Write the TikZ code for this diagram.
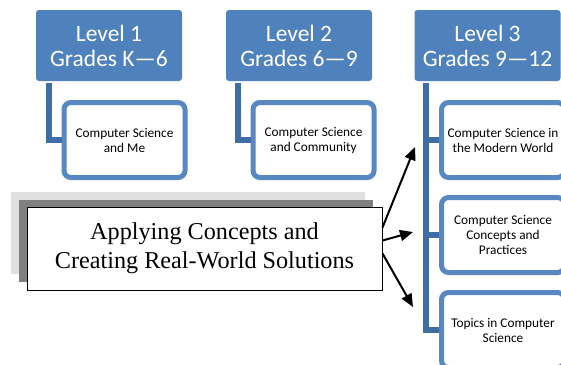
\documentclass[tikz,border=0pt]{standalone}
\usepackage{fontspec}
\setmainfont{Liberation Serif}
\newfontfamily\calibri{Carlito}
\usetikzlibrary{arrows.meta}
\definecolor{lvblue}{HTML}{4F81BD}
\definecolor{lnblue}{HTML}{3F6EA6}
\definecolor{subblue}{HTML}{5987C2}
\begin{document}
\begin{tikzpicture}[x=1pt,y=-1pt,
    level/.style={fill=lvblue,rounded corners=3pt,minimum width=146pt,minimum height=71pt,
        inner sep=0pt,align=center,text=white,font=\calibri\fontsize{23.5}{25}\selectfont},
    sub/.style={draw=subblue,line width=5pt,fill=white,rounded corners=7pt,minimum width=121pt,
        minimum height=75pt,inner sep=0pt,align=center,font=\calibri\fontsize{13.3}{15}\selectfont},
    link/.style={draw=lnblue,line width=6pt},
    shade/.style={minimum width=354pt,minimum height=82pt,inner sep=0pt},
    push/.style={line width=2pt,-{Triangle[length=13pt,width=11pt]}}]
    \useasboundingbox (0,0) rectangle (561,364);
    \clip (0,0) rectangle (561,364);
    % levels
    \node[level] (lvA) at (109,45.5){Level 1\\Grades K—6};
    \node[level] (lvB) at (299,45.5){Level 2\\Grades 6—9};
    \node[level] (lvC) at (487.5,45.5){Level 3\\Grades 9—12};
    % courses
    \node[sub] (subA) at (124.5,140){Computer Science\\and Me};
    \node[sub] (subB) at (313.5,140){Computer Science\\and Community};
    \node[sub,minimum width=123pt] (subC) at (503,140){Computer Science in\\the Modern World};
    \node[sub,minimum width=123pt] (subD) at (503,235){Computer Science\\Concepts and\\Practices};
    \node[sub,minimum width=123pt] (subE) at (503,330){Topics in Computer\\Science};
    \draw[link] ([xshift=13pt,yshift=-2pt]lvA.south west) |- (subA.west);
    \draw[link] ([xshift=12pt,yshift=-2pt]lvB.south west) |- (subB.west);
    \draw[link] ([xshift=12pt,yshift=-2pt]lvC.south west) |- (subE.west);
    \draw[link] ([xshift=12pt]lvC.south west |- subC.west) -- (subC.west);
    \draw[link] ([xshift=12pt]lvC.south west |- subD.west) -- (subD.west);
    % applying box
    \node[shade,fill=black!12] (shadeA) at (188,233){};
    \node[shade,fill=black!50] (shadeB) at (196,240.5){};
    \node[draw,fill=white,line width=1pt,minimum width=355pt,minimum height=83pt,align=center,
        font=\fontsize{24.2}{29}\selectfont] (app) at (204.5,248.5){Applying Concepts and\\Creating Real-World Solutions};
    \coordinate (tipA) at (415,147);
    \coordinate (tipB) at (413,232);
    \coordinate (tipC) at (413,307);
    \draw[push] ([yshift=21pt]app.east) -- (tipA);
    \draw[push] ([yshift=8pt]app.east) -- (tipB);
    \draw[push] ([yshift=-5pt]app.east) -- (tipC);
\end{tikzpicture}
\end{document}
